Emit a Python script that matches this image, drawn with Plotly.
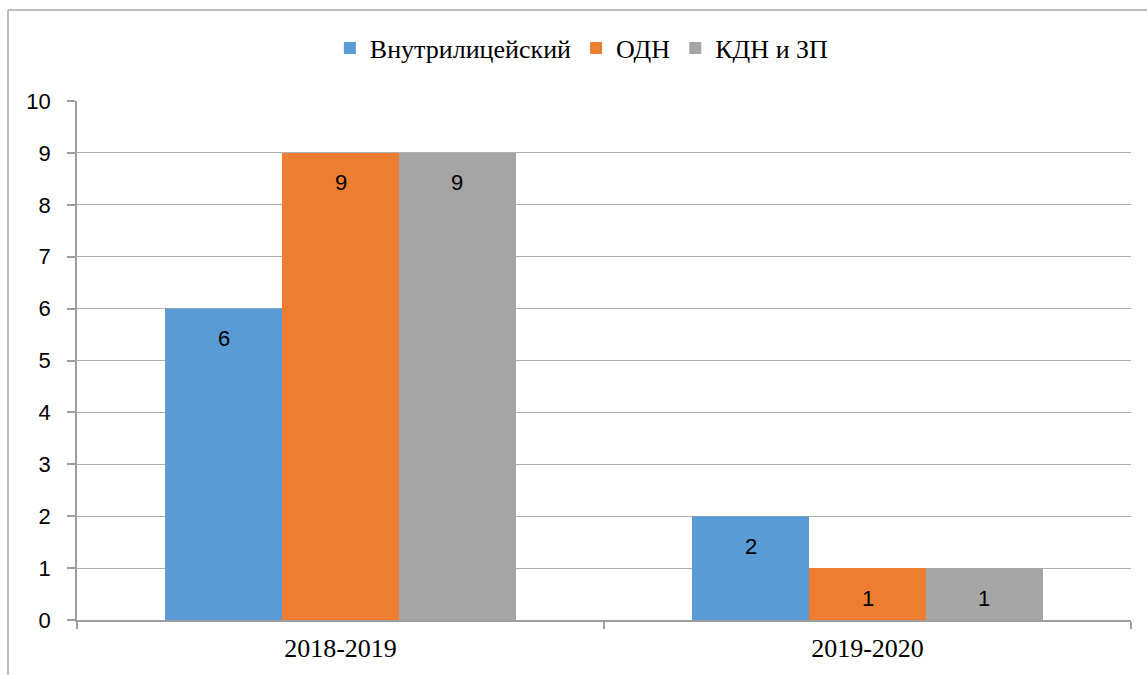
import plotly.graph_objects as go

categories = ["2018-2019", "2019-2020"]
series_names = ["Внутрилицейский", "ОДН", "КДН и ЗП"]
vals_vnutr = [6, 2]
vals_odn = [9, 1]
vals_kdn = [9, 1]
colors = ["#5B9BD5", "#ED7D31", "#A5A5A5"]
y_ticks = list(range(0, 11))

series_values = [vals_vnutr, vals_odn, vals_kdn]
bargap = 0.334
nser = len(series_names)

SERIF = "Liberation Serif"
SANS = "Liberation Sans"

fig = go.Figure()
for name, vals, col in zip(series_names, series_values, colors):
    fig.add_trace(go.Bar(name=name, x=categories, y=vals, marker=dict(color=col, line=dict(width=0))))

# data labels (inside end), positioned relative to each bar through the category axis
bw = (1 - bargap) / nser
for si, vals in enumerate(series_values):
    for ci, v in enumerate(vals):
        fig.add_annotation(x=ci + (si - (nser - 1) / 2) * bw, y=v, xref="x", yref="y",
                           text=str(v), showarrow=False, yshift=-30,
                           font=dict(family=SANS, size=22, color="#000000"))

W, H = 1147, 675
ml, mr, mt, mb = 77, 16, 101, 55
pw, ph = W - ml - mr, H - mt - mb
def px(x):
    return (x - ml) / pw
def py(y):
    return (H - mb - y) / ph

# outer chart border (left and top visible)
fig.add_shape(type="line", xref="paper", yref="paper", x0=px(8), x1=px(8), y0=py(10), y1=py(690),
              line=dict(color="#A6A6A6", width=1.5))
fig.add_shape(type="line", xref="paper", yref="paper", x0=px(8), x1=px(1160), y0=py(10), y1=py(10),
              line=dict(color="#A6A6A6", width=1.5))

fig.update_layout(
    width=W, height=H,
    margin=dict(l=ml, r=mr, t=mt, b=mb, autoexpand=False),
    paper_bgcolor="white", plot_bgcolor="white",
    font=dict(family=SERIF, size=26, color="#000000"),
    barmode="group", bargap=bargap, bargroupgap=0,
    showlegend=True,
    legend=dict(orientation="h", x=0.479, y=py(48), xanchor="center", yanchor="middle",
                font=dict(family=SERIF, size=26, color="#000000"),
                traceorder="normal", itemwidth=30),
    xaxis=dict(type="category", showline=True, linecolor="#9E9E9E", linewidth=1.5,
               ticks="outside", tickson="boundaries", ticklen=7, tickcolor="#9E9E9E", tickwidth=1.5,
               tickfont=dict(family=SERIF, size=26, color="#000000"),
               ticklabelstandoff=4, showgrid=False),
    yaxis=dict(range=[0, 10], tickvals=y_ticks, showline=True, linecolor="#9E9E9E", linewidth=1.5,
               ticks="outside", ticklen=8, tickcolor="#9E9E9E", tickwidth=1.5,
               showgrid=True, gridcolor="#B0B0B0", gridwidth=1.2, zeroline=False,
               tickfont=dict(family=SANS, size=22, color="#000000"),
               ticklabelstandoff=12),
)

fig.write_html("out.html", config={"displayModeBar": False},
               post_script="document.body.style.margin='0';document.body.style.overflow='hidden';")
